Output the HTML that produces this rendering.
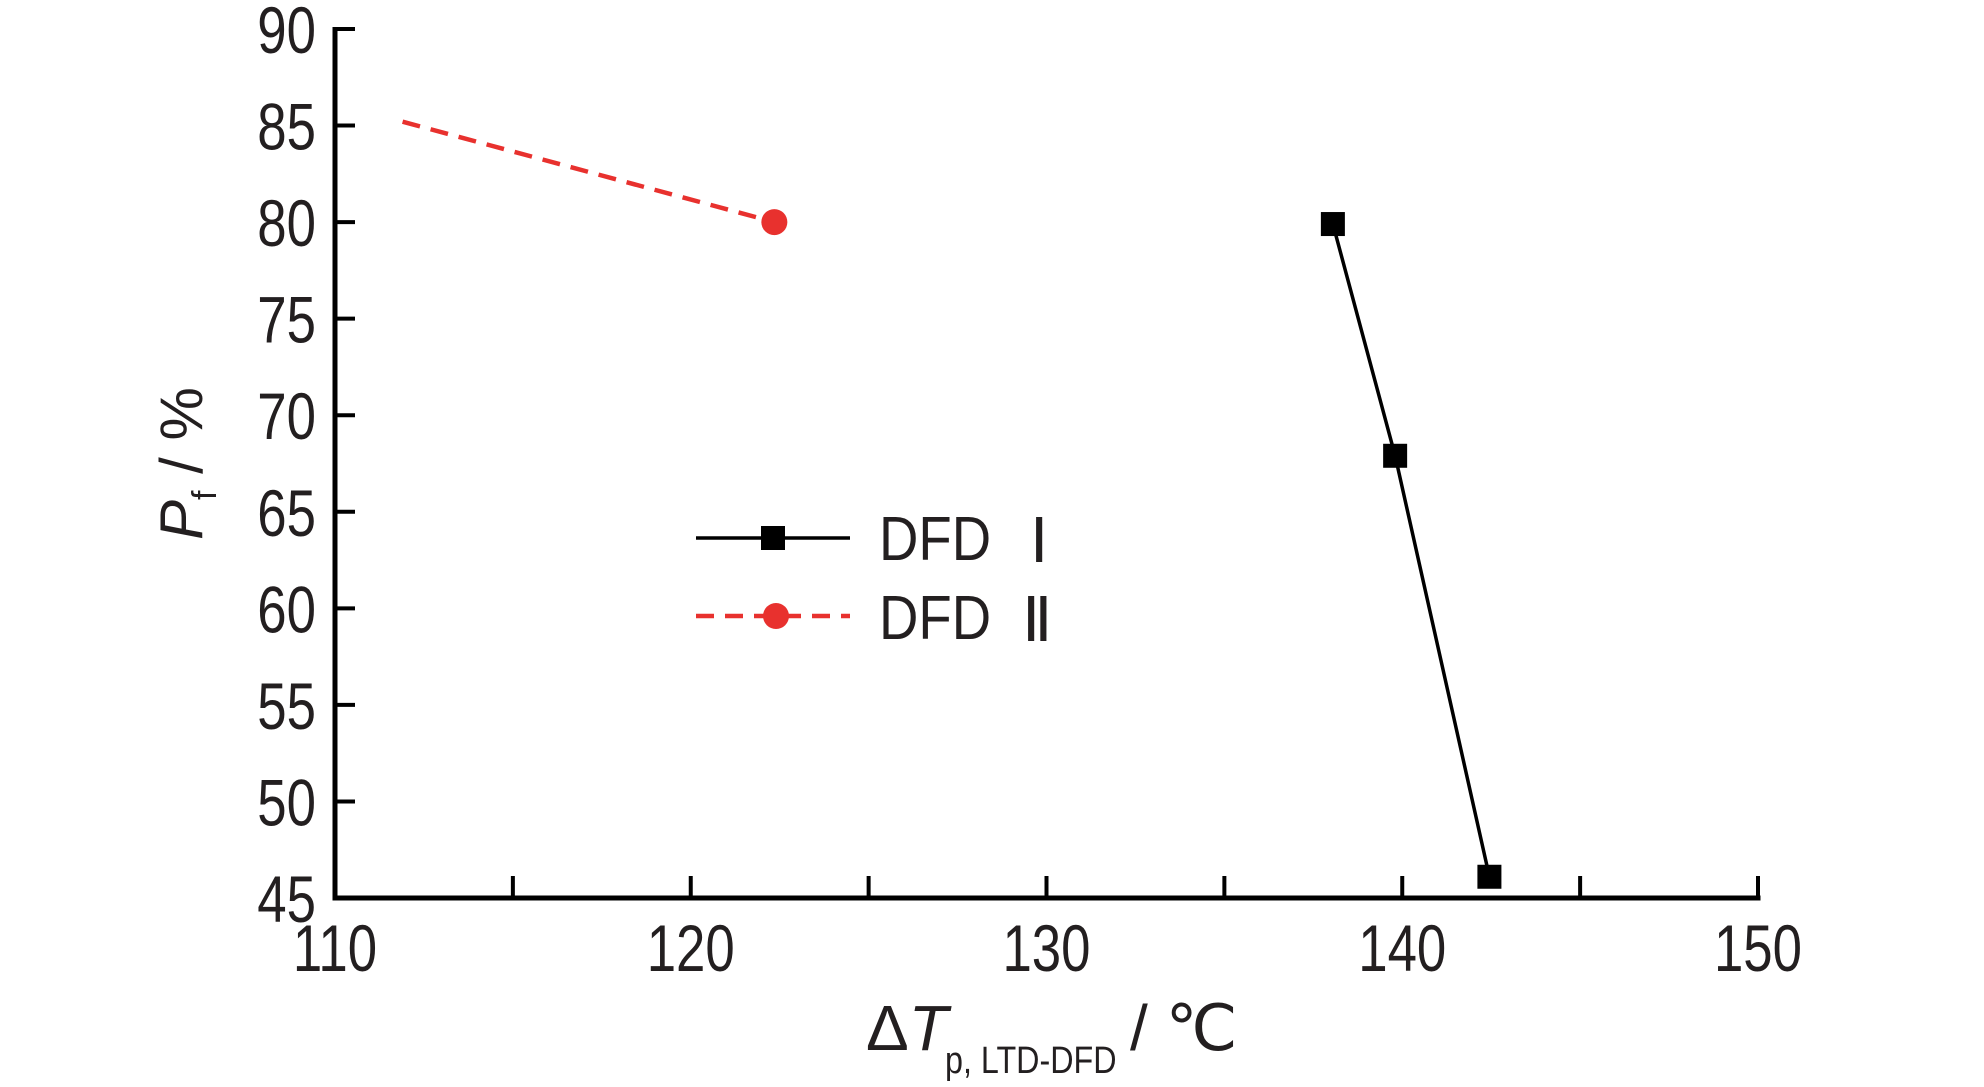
<!DOCTYPE html>
<html><head><meta charset="utf-8"><style>
html,body{margin:0;padding:0;background:#fff;}
svg{display:block;}
text{font-family:"Liberation Sans",Arial,sans-serif;fill:#231f20;}
</style></head><body>
<svg id="chart" width="1984" height="1087" viewBox="0 0 1984 1087" xmlns="http://www.w3.org/2000/svg">
<g id="axes"></g>
<g id="series"></g>
<g id="legend">
  <line x1="696" y1="538" x2="850" y2="538" stroke="#000" stroke-width="3.5"/>
  <rect x="761" y="526" width="24" height="24" fill="#000"/>
  <text x="879" y="560" font-size="62" transform="translate(879,0) scale(0.88,1) translate(-879,0)">DFD</text>
  <text x="1030" y="562" font-size="62" font-family="Liberation Serif, serif">Ⅰ</text>
  <line x1="696" y1="616" x2="850" y2="616" stroke="#e8312e" stroke-width="4.5" stroke-dasharray="18,11"/>
  <circle cx="776" cy="616" r="13" fill="#e8312e"/>
  <text x="879" y="639" font-size="62" transform="translate(879,0) scale(0.88,1) translate(-879,0)">DFD</text>
  <text x="1022" y="641" font-size="62" font-family="Liberation Serif, serif">Ⅱ</text>
</g>
<g>
  <text x="866" y="1050" font-size="64">Δ<tspan font-style="italic">T</tspan></text>
  <text x="945" y="1073" font-size="38" transform="translate(945,0) scale(0.85,1) translate(-945,0)">p, LTD-DFD</text>
  <text x="1130" y="1050" font-size="64">/ ℃</text>
</g>
<g transform="translate(202,470) rotate(-90)">
  <text x="-70" y="0" font-size="60"><tspan font-style="italic">P</tspan><tspan font-size="34" dy="14">f</tspan><tspan dy="-14"> / %</tspan></text>
</g>
</svg>
<script>
const xTicks=[110,115,120,125,130,135,140,145,150];
const xLabels=[110,120,130,140,150];
const yTicks=[45,50,55,60,65,70,75,80,85,90];
const dfd1X=[138.05,139.8,142.45];
const dfd1Y=[79.9,67.9,46.1];
const dfd2X=[111.9,122.35];
const dfd2Y=[85.2,80];
const dfd2MarkerX=[122.35];
const dfd2MarkerY=[80];

const X0=335,X1=1758,Y0=898,Y1=29;
function sx(v){return X0+(v-110)/(150-110)*(X1-X0);}
function sy(v){return Y0-(v-45)/(90-45)*(Y0-Y1);}
const NS="http://www.w3.org/2000/svg";
function mk(tag,attrs,parent){const e=document.createElementNS(NS,tag);for(const k in attrs)e.setAttribute(k,attrs[k]);parent.appendChild(e);return e;}
const axes=document.getElementById('axes');
const series=document.getElementById('series');

let a=mk('line',{x1:X0,y1:Y1-2,x2:X0,y2:Y0+2.5,stroke:'#000','stroke-width':5},axes);


a=mk('line',{x1:X0-2.5,y1:Y0,x2:X1+2.5,y2:Y0,stroke:'#000','stroke-width':5},axes);



xTicks.forEach(v=>{
  const t=mk('line',{x1:sx(v),y1:Y0,x2:sx(v),y2:Y0-22,stroke:'#000','stroke-width':4},axes);
  
  
});
xLabels.forEach(v=>{
  const t=mk('text',{x:sx(v),y:971,'font-size':66,'text-anchor':'middle',transform:'translate('+sx(v)+',0) scale(0.8,1) translate('+(-sx(v))+',0)'},axes);
  t.textContent=v;
  
  
});
yTicks.forEach(v=>{
  if(v!==45){
  const t=mk('line',{x1:X0,y1:sy(v),x2:X0+20,y2:sy(v),stroke:'#000','stroke-width':4},axes);
  
  }
  const l=mk('text',{x:316,y:sy(v)+24,'font-size':66,'text-anchor':'end',transform:'translate(316,0) scale(0.8,1) translate(-316,0)'},axes);
  l.textContent=v;
  
  
});

const p1=mk('polyline',{points:dfd1X.map((x,i)=>sx(x)+','+sy(dfd1Y[i])).join(' '),fill:'none',stroke:'#000','stroke-width':3.5},series);


dfd1X.forEach((x,i)=>{
  const r=mk('rect',{x:sx(x)-12,y:sy(dfd1Y[i])-12,width:24,height:24,fill:'#000'},series);
  
  
});
const p2=mk('polyline',{points:dfd2X.map((x,i)=>sx(x)+','+sy(dfd2Y[i])).join(' '),fill:'none',stroke:'#e8312e','stroke-width':4.5,'stroke-dasharray':'18,11'},series);


dfd2MarkerX.forEach((x,i)=>{
  const c=mk('circle',{cx:sx(x),cy:sy(dfd2MarkerY[i]),r:13,fill:'#e8312e'},series);
  
  
});
</script>
</body></html>
